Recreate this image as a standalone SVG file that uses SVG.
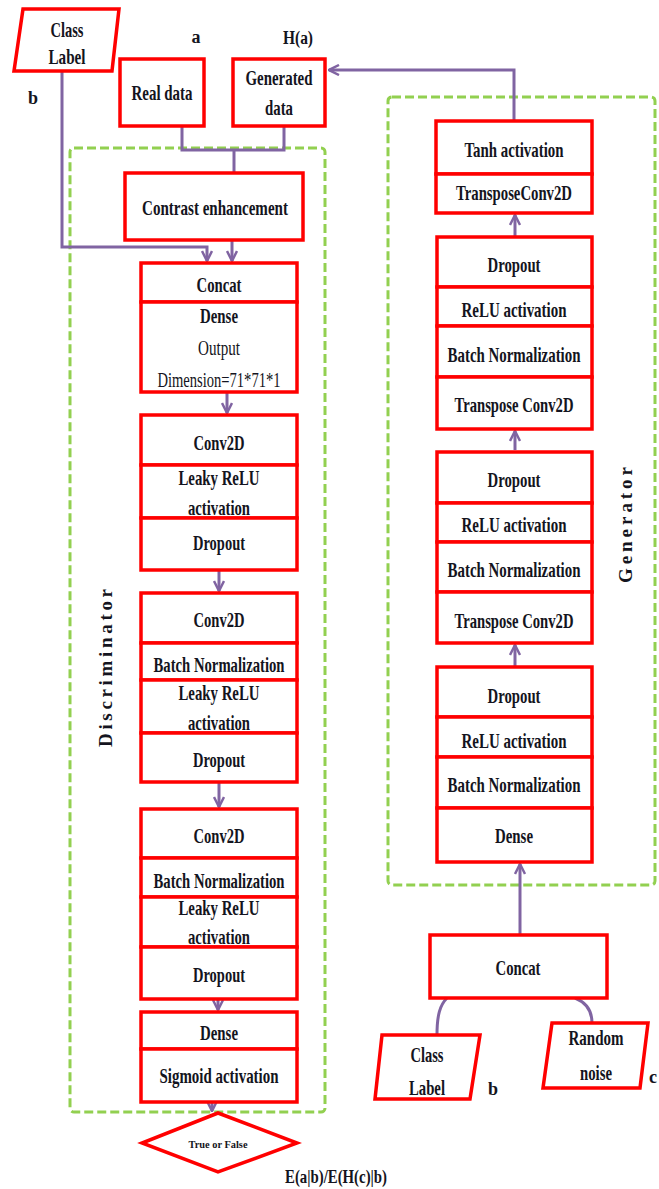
<svg xmlns="http://www.w3.org/2000/svg" width="659" height="1189" viewBox="0 0 659 1189">
<style>
.box{fill:#fff;stroke:#ff0000;stroke-width:3.5}
.t{font-family:"Liberation Serif","Times New Roman",serif;font-weight:bold;font-size:21px;fill:#141420;text-anchor:middle}
.n{font-weight:normal}
.c{fill:none;stroke:#8064a2;stroke-width:3}
.dash{fill:none;stroke:#92d050;stroke-width:3;stroke-dasharray:9 4}
.lbl{font-family:"Liberation Serif","Times New Roman",serif;font-weight:bold;font-size:18px;fill:#141420}
</style>
<defs>
<marker id="ah" viewBox="0 0 12 12" refX="11" refY="6" markerWidth="12" markerHeight="12" markerUnits="userSpaceOnUse" orient="auto">
<path d="M1,1 L11,6 L1,11" fill="none" stroke="#8064a2" stroke-width="2.5"/>
</marker>
</defs>
<rect width="659" height="1189" fill="#fff"/>

<g id="containers">
<rect class="dash" x="70" y="148" width="255" height="964" rx="4"/>
<rect class="dash" x="388" y="97" width="267" height="788" rx="4"/>
<text class="lbl" x="112" y="668" text-anchor="middle" textLength="158" lengthAdjust="spacing" transform="rotate(-90 112 668)" style="font-size:19px">Discriminator</text>
<text class="lbl" x="632" y="525" text-anchor="middle" textLength="116" lengthAdjust="spacing" transform="rotate(-90 632 525)" style="font-size:19px">Generator</text>
</g>

<g id="connectors">
<path class="c" d="M62,71 V247 H207 V261" marker-end="url(#ah)"/>
<path class="c" d="M182,126 V150 H284 V126"/>
<path class="c" d="M234,150 V173"/>
<path class="c" d="M232,240 V261" marker-end="url(#ah)"/>
<path class="c" d="M227,392 V413" marker-end="url(#ah)"/>
<path class="c" d="M219,570 V591" marker-end="url(#ah)"/>
<path class="c" d="M219,782 V807" marker-end="url(#ah)"/>
<path class="c" d="M218,999 V1010" marker-end="url(#ah)"/>
<path class="c" d="M212,1102 V1111" marker-end="url(#ah)"/>
<path class="c" d="M514,121 V70 H329" marker-end="url(#ah)"/>
<path class="c" d="M515,237 V215" marker-end="url(#ah)"/>
<path class="c" d="M515,450 V431" marker-end="url(#ah)"/>
<path class="c" d="M515,667 V645" marker-end="url(#ah)"/>
<path class="c" d="M520,935 V864" marker-end="url(#ah)"/>
<path class="c" d="M437,1035 C437,1015 440,1005 447,998"/>
<path class="c" d="M592,1023 C592,1010 585,1002 575,998"/>
</g>

<g id="class-label-top">
<polygon class="box" points="23,9 119,9 112,71 14,71"/>
<text class="t" x="67" y="37" textLength="33" lengthAdjust="spacingAndGlyphs">Class</text>
<text class="t" x="67" y="64" textLength="37" lengthAdjust="spacingAndGlyphs">Label</text>
</g>
<g id="real-data">
<rect class="box" x="120" y="59" width="84" height="67"/>
<text class="t" x="162" y="100" textLength="61" lengthAdjust="spacingAndGlyphs">Real data</text>
</g>
<g id="generated-data">
<rect class="box" x="233" y="59" width="92" height="67"/>
<text class="t" x="279" y="85" textLength="67" lengthAdjust="spacingAndGlyphs">Generated</text>
<text class="t" x="279" y="115" textLength="28" lengthAdjust="spacingAndGlyphs">data</text>
</g>
<g id="labels">
<text class="lbl" x="196" y="43" text-anchor="middle">a</text>
<text class="lbl" x="298" y="44" text-anchor="middle" textLength="30" lengthAdjust="spacingAndGlyphs">H(a)</text>
<text class="lbl" x="33" y="104" text-anchor="middle">b</text>
<text class="lbl" x="493" y="1095" text-anchor="middle">b</text>
<text class="lbl" x="649" y="1083">c</text>
<text class="lbl" x="336" y="1183" text-anchor="middle" textLength="102" lengthAdjust="spacingAndGlyphs">E(a|b)/E(H(c)|b)</text>
</g>

<g id="contrast-enhancement">
<rect class="box" x="125" y="173" width="178" height="67"/>
<text class="t" x="215" y="215" textLength="146" lengthAdjust="spacingAndGlyphs">Contrast  enhancement</text>
</g>
<g id="d-concat">
<rect class="box" x="141" y="263" width="156" height="39"/>
<text class="t" x="219" y="292" textLength="45" lengthAdjust="spacingAndGlyphs">Concat</text>
</g>
<g id="d-dense1">
<rect class="box" x="141" y="302" width="156" height="90"/>
<text class="t" x="219" y="323" textLength="38" lengthAdjust="spacingAndGlyphs">Dense</text>
<text class="t n" x="219" y="355" textLength="42" lengthAdjust="spacingAndGlyphs">Output</text>
<text class="t n" x="219" y="387" textLength="123" lengthAdjust="spacingAndGlyphs">Dimension=71*71*1</text>
</g>

<g id="d1-conv">
<rect class="box" x="141" y="415" width="156" height="50"/>
<text class="t" x="219" y="450" textLength="51" lengthAdjust="spacingAndGlyphs">Conv2D</text>
</g>
<g id="d1-leaky">
<rect class="box" x="141" y="465" width="156" height="53"/>
<text class="t" x="219" y="485" textLength="81" lengthAdjust="spacingAndGlyphs">Leaky ReLU</text>
<text class="t" x="219" y="515" textLength="62" lengthAdjust="spacingAndGlyphs">activation</text>
</g>
<g id="d1-dropout">
<rect class="box" x="141" y="518" width="156" height="52"/>
<text class="t" x="219" y="550" textLength="52" lengthAdjust="spacingAndGlyphs">Dropout</text>
</g>

<g id="d2-conv">
<rect class="box" x="141" y="593" width="156" height="50"/>
<text class="t" x="219" y="627" textLength="51" lengthAdjust="spacingAndGlyphs">Conv2D</text>
</g>
<g id="d2-bn">
<rect class="box" x="141" y="643" width="156" height="37"/>
<text class="t" x="219" y="672" textLength="131" lengthAdjust="spacingAndGlyphs">Batch Normalization</text>
</g>
<g id="d2-leaky">
<rect class="box" x="141" y="680" width="156" height="53"/>
<text class="t" x="219" y="700" textLength="81" lengthAdjust="spacingAndGlyphs">Leaky ReLU</text>
<text class="t" x="219" y="730" textLength="62" lengthAdjust="spacingAndGlyphs">activation</text>
</g>
<g id="d2-dropout">
<rect class="box" x="141" y="733" width="156" height="49"/>
<text class="t" x="219" y="767" textLength="52" lengthAdjust="spacingAndGlyphs">Dropout</text>
</g>

<g id="d3-conv">
<rect class="box" x="141" y="809" width="156" height="49"/>
<text class="t" x="219" y="843" textLength="51" lengthAdjust="spacingAndGlyphs">Conv2D</text>
</g>
<g id="d3-bn">
<rect class="box" x="141" y="858" width="156" height="39"/>
<text class="t" x="219" y="888" textLength="131" lengthAdjust="spacingAndGlyphs">Batch Normalization</text>
</g>
<g id="d3-leaky">
<rect class="box" x="141" y="897" width="156" height="50"/>
<text class="t" x="219" y="915" textLength="81" lengthAdjust="spacingAndGlyphs">Leaky ReLU</text>
<text class="t" x="219" y="944" textLength="62" lengthAdjust="spacingAndGlyphs">activation</text>
</g>
<g id="d3-dropout">
<rect class="box" x="141" y="947" width="156" height="52"/>
<text class="t" x="219" y="982" textLength="52" lengthAdjust="spacingAndGlyphs">Dropout</text>
</g>

<g id="d-dense2">
<rect class="box" x="141" y="1012" width="156" height="37"/>
<text class="t" x="219" y="1040" textLength="38" lengthAdjust="spacingAndGlyphs">Dense</text>
</g>
<g id="d-sigmoid">
<rect class="box" x="141" y="1049" width="156" height="53"/>
<text class="t" x="219" y="1083" textLength="119" lengthAdjust="spacingAndGlyphs">Sigmoid activation</text>
</g>
<g id="true-false">
<polygon class="box" points="218,1113 297,1143 218,1172 142,1143"/>
<text class="t" x="218" y="1148" style="font-size:11px" textLength="59" lengthAdjust="spacingAndGlyphs">True or False</text>
</g>

<g id="g-tanh">
<rect class="box" x="436" y="121" width="156" height="53"/>
<text class="t" x="514" y="157" textLength="99" lengthAdjust="spacingAndGlyphs">Tanh activation</text>
</g>
<g id="g-tconv-top">
<rect class="box" x="436" y="174" width="156" height="39"/>
<text class="t" x="514" y="200" textLength="116" lengthAdjust="spacingAndGlyphs">TransposeConv2D</text>
</g>

<g id="g1-dropout">
<rect class="box" x="437" y="237" width="155" height="50"/>
<text class="t" x="514" y="272" textLength="53" lengthAdjust="spacingAndGlyphs">Dropout</text>
</g>
<g id="g1-relu">
<rect class="box" x="437" y="287" width="155" height="39"/>
<text class="t" x="514" y="317" textLength="105" lengthAdjust="spacingAndGlyphs">ReLU activation</text>
</g>
<g id="g1-bn">
<rect class="box" x="437" y="326" width="155" height="51"/>
<text class="t" x="514" y="362" textLength="133" lengthAdjust="spacingAndGlyphs">Batch Normalization</text>
</g>
<g id="g1-tconv">
<rect class="box" x="437" y="377" width="155" height="52"/>
<text class="t" x="514" y="412" textLength="119" lengthAdjust="spacingAndGlyphs">Transpose Conv2D</text>
</g>

<g id="g2-dropout">
<rect class="box" x="437" y="452" width="155" height="51"/>
<text class="t" x="514" y="487" textLength="53" lengthAdjust="spacingAndGlyphs">Dropout</text>
</g>
<g id="g2-relu">
<rect class="box" x="437" y="503" width="155" height="39"/>
<text class="t" x="514" y="532" textLength="105" lengthAdjust="spacingAndGlyphs">ReLU activation</text>
</g>
<g id="g2-bn">
<rect class="box" x="437" y="542" width="155" height="50"/>
<text class="t" x="514" y="577" textLength="133" lengthAdjust="spacingAndGlyphs">Batch Normalization</text>
</g>
<g id="g2-tconv">
<rect class="box" x="437" y="592" width="155" height="51"/>
<text class="t" x="514" y="628" textLength="119" lengthAdjust="spacingAndGlyphs">Transpose Conv2D</text>
</g>

<g id="g3-dropout">
<rect class="box" x="437" y="667" width="155" height="50"/>
<text class="t" x="514" y="703" textLength="53" lengthAdjust="spacingAndGlyphs">Dropout</text>
</g>
<g id="g3-relu">
<rect class="box" x="437" y="717" width="155" height="40"/>
<text class="t" x="514" y="748" textLength="105" lengthAdjust="spacingAndGlyphs">ReLU activation</text>
</g>
<g id="g3-bn">
<rect class="box" x="437" y="757" width="155" height="51"/>
<text class="t" x="514" y="792" textLength="133" lengthAdjust="spacingAndGlyphs">Batch Normalization</text>
</g>
<g id="g3-dense">
<rect class="box" x="437" y="808" width="155" height="54"/>
<text class="t" x="514" y="843" textLength="38" lengthAdjust="spacingAndGlyphs">Dense</text>
</g>

<g id="g-concat">
<rect class="box" x="430" y="935" width="177" height="63"/>
<text class="t" x="518" y="975" textLength="45" lengthAdjust="spacingAndGlyphs">Concat</text>
</g>
<g id="class-label-bottom">
<polygon class="box" points="382,1035 480,1035 470,1099 375,1099"/>
<text class="t" x="427" y="1062" textLength="33" lengthAdjust="spacingAndGlyphs">Class</text>
<text class="t" x="427" y="1095" textLength="36" lengthAdjust="spacingAndGlyphs">Label</text>
</g>
<g id="random-noise">
<polygon class="box" points="552,1023 648,1023 640,1088 543,1088"/>
<text class="t" x="596" y="1045" textLength="55" lengthAdjust="spacingAndGlyphs">Random</text>
<text class="t" x="596" y="1080" textLength="32" lengthAdjust="spacingAndGlyphs">noise</text>
</g>
</svg>
